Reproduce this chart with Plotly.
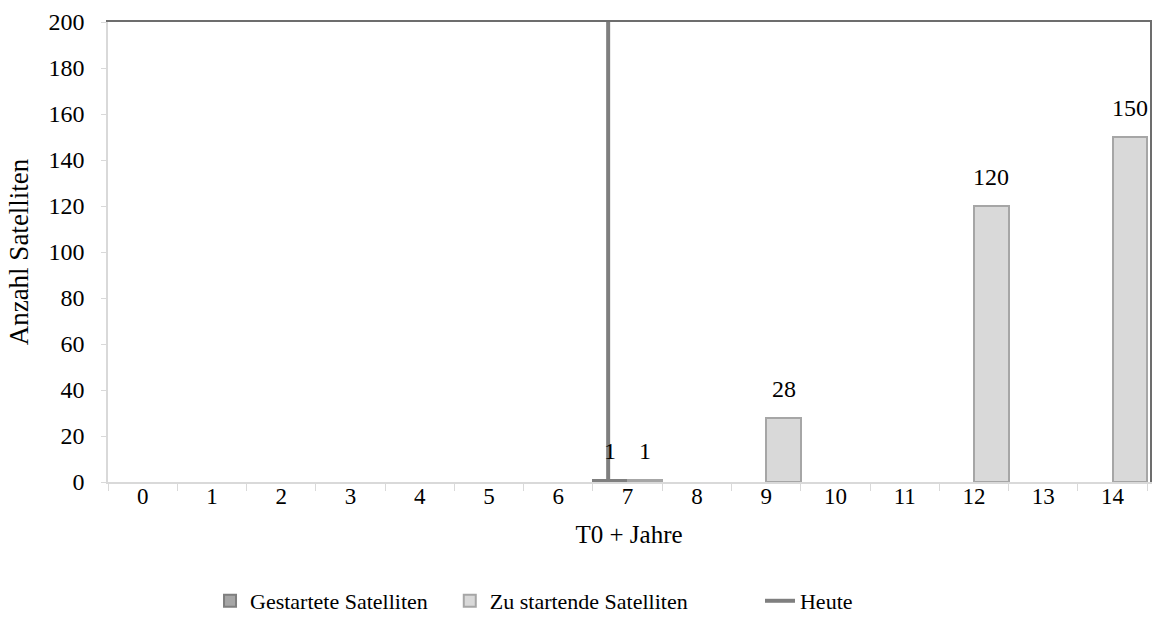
import plotly.graph_objects as go

years = [str(i) for i in range(15)]
gestartete = [None, None, None, None, None, None, None, 1, None, None, None, None, None, None, None]
zu_startende = [None, None, None, None, None, None, None, 1, None, 28, None, None, 120, None, 150]
heute_x = [6.7, 6.7]
heute_y = [0, 200]

FONT = "Liberation Serif"

fig = go.Figure()
fig.add_trace(go.Bar(
    x=years, y=gestartete, name="Gestartete Satelliten",
    marker=dict(color="#a6a6a6", line=dict(color="#7f7f7f", width=2)),
    legend="legend",
))
fig.add_trace(go.Bar(
    x=years, y=zu_startende, name="Zu startende Satelliten",
    marker=dict(color="#d9d9d9", line=dict(color="#a6a6a6", width=2)),
    legend="legend2",
))
fig.add_trace(go.Scatter(
    x=heute_x, y=heute_y, name="Heute", mode="lines",
    line=dict(color="#7f7f7f", width=4),
    xaxis="x2", yaxis="y2", legend="legend3",
))

# data labels above bars (grouped: left bar / right bar of each category)
annotations = []
for series, shift in ((gestartete, -17.4), (zu_startende, 17.4)):
    for cat, v in zip(years, series):
        if v is None:
            continue
        annotations.append(dict(
            x=cat, y=v, xref="x", yref="y", text=str(v), showarrow=False,
            xanchor="center", yanchor="middle", xshift=shift, yshift=29,
            font=dict(family=FONT, size=24, color="#000000"),
        ))

legend_common = dict(
    orientation="h", yanchor="top", y=-0.213, xanchor="left",
    font=dict(family=FONT, size=22, color="#000000"), bgcolor="rgba(0,0,0,0)",
)

fig.update_layout(
    width=1153, height=643,
    margin=dict(l=108, r=3, t=22, b=161),
    paper_bgcolor="white", plot_bgcolor="white",
    barmode="group", bargap=0, bargroupgap=0,
    font=dict(family=FONT, size=24, color="#000000"),
    annotations=annotations,
    xaxis=dict(
        type="category", categoryorder="array", categoryarray=years,
        tickson="boundaries", ticks="outside", ticklen=7, tickcolor="#d9d9d9",
        showline=True, linecolor="#d9d9d9", linewidth=1.5,
        showgrid=False, zeroline=False,
        tickfont=dict(family=FONT, size=23),
        ticklabelstandoff=-7,
        title=dict(text="T0 + Jahre", font=dict(family=FONT, size=25), standoff=17),
    ),
    yaxis=dict(
        range=[0, 200], dtick=20, ticks="outside", ticklen=5, tickcolor="#d9d9d9",
        showline=True, linecolor="#d9d9d9", linewidth=1.5,
        showgrid=False, zeroline=False,
        tickfont=dict(family=FONT, size=24),
        ticklabelstandoff=12,
        title=dict(text="Anzahl Satelliten", font=dict(family=FONT, size=27), standoff=12),
    ),
    xaxis2=dict(
        overlaying="x", side="top", range=[-0.5, 14.5],
        showline=True, linecolor="#6d6d6d", linewidth=2,
        showticklabels=False, ticks="", showgrid=False, zeroline=False,
    ),
    yaxis2=dict(
        overlaying="y", side="right", range=[0, 200],
        showline=True, linecolor="#6d6d6d", linewidth=2,
        showticklabels=False, ticks="", showgrid=False, zeroline=False,
    ),
    showlegend=True,
    legend=dict(x=0.0979, **legend_common),
    legend2=dict(x=0.328, **legend_common),
    legend3=dict(x=0.6257, **legend_common),
)

fig.write_html("out.html")
